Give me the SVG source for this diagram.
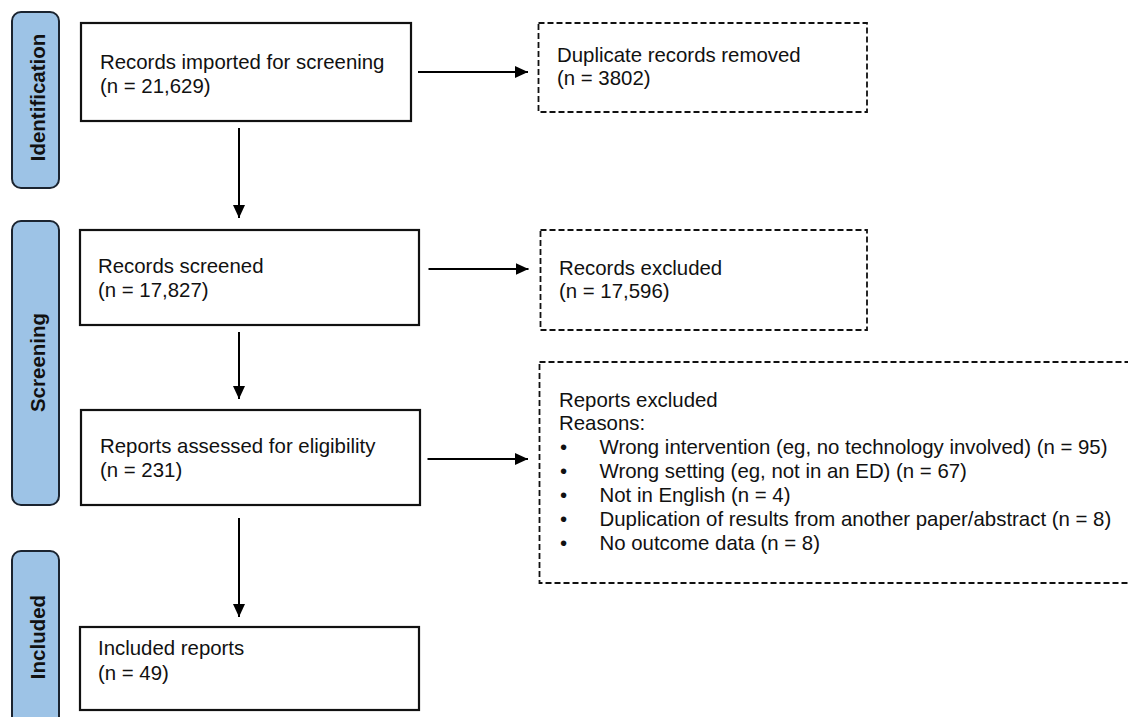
<svg xmlns="http://www.w3.org/2000/svg" width="1128" height="717" viewBox="0 0 1128 717">
  <defs>
    <marker id="arrow" viewBox="0 0 13 12" refX="13" refY="6" markerWidth="13" markerHeight="12" markerUnits="userSpaceOnUse" orient="auto">
      <path d="M0,0 L13,6 L0,12 Z" fill="#000"/>
    </marker>
    <style>
      .tab { fill: #9dc3e6; stroke: #1b2430; stroke-width: 2; }
      .tab-label { font-family: "Liberation Sans", Arial, sans-serif; font-size: 20.5px; font-weight: bold; fill: #111; text-anchor: middle; }
      .box { fill: #fff; stroke: #111; stroke-width: 2.2; }
      .dbox { fill: #fff; stroke: #111; stroke-width: 1.8; stroke-dasharray: 6 3; }
      .txt { font-family: "Liberation Sans", Arial, sans-serif; font-size: 20.4px; fill: #111; }
      .conn { stroke: #000; stroke-width: 2; fill: none; marker-end: url(#arrow); }
    </style>
  </defs>
  <rect width="1128" height="717" fill="#fff"/>

  <!-- phase tabs -->
  <g id="tab-identification">
    <rect class="tab" x="12" y="12" width="47" height="176" rx="9"/>
    <text class="tab-label" transform="translate(45,97.5) rotate(-90)">Identification</text>
  </g>
  <g id="tab-screening">
    <rect class="tab" x="12" y="221" width="47" height="284" rx="9"/>
    <text class="tab-label" transform="translate(45,362.5) rotate(-90)">Screening</text>
  </g>
  <g id="tab-included">
    <rect class="tab" x="12" y="551" width="47" height="180" rx="9"/>
    <text class="tab-label" transform="translate(45,637) rotate(-90)">Included</text>
  </g>

  <!-- main flow -->
  <g id="records-imported">
    <rect class="box" x="81" y="23" width="330" height="98"/>
    <text class="txt" x="100" y="69">Records imported for screening</text>
    <text class="txt" x="100" y="93">(n = 21,629)</text>
  </g>
  <g id="records-screened">
    <rect class="box" x="80" y="230" width="339" height="95"/>
    <text class="txt" x="98" y="273">Records screened</text>
    <text class="txt" x="98" y="297">(n = 17,827)</text>
  </g>
  <g id="reports-assessed">
    <rect class="box" x="81" y="410" width="339" height="95"/>
    <text class="txt" x="100" y="453">Reports assessed for eligibility</text>
    <text class="txt" x="100" y="477">(n = 231)</text>
  </g>
  <g id="included-reports">
    <rect class="box" x="80" y="627" width="339" height="83"/>
    <text class="txt" x="98" y="655">Included reports</text>
    <text class="txt" x="98" y="680">(n = 49)</text>
  </g>

  <!-- exclusions -->
  <g id="duplicates-removed">
    <rect class="dbox" x="538.5" y="23" width="328.5" height="89"/>
    <text class="txt" x="557" y="62">Duplicate records removed</text>
    <text class="txt" x="557" y="85">(n = 3802)</text>
  </g>
  <g id="records-excluded">
    <rect class="dbox" x="540.5" y="230" width="326.5" height="100"/>
    <text class="txt" x="559" y="275">Records excluded</text>
    <text class="txt" x="559" y="298">(n = 17,596)</text>
  </g>
  <g id="reports-excluded">
    <rect class="dbox" x="539.5" y="362" width="620" height="221"/>
    <text class="txt" x="559" y="407">Reports excluded</text>
    <text class="txt" x="559" y="430">Reasons:</text>
    <g class="txt">
      <text x="560" y="454">•</text><text x="599.5" y="454">Wrong intervention (eg, no technology involved) (n = 95)</text>
      <text x="560" y="478">•</text><text x="599.5" y="478">Wrong setting (eg, not in an ED) (n = 67)</text>
      <text x="560" y="502">•</text><text x="599.5" y="502">Not in English (n = 4)</text>
      <text x="560" y="526">•</text><text x="599.5" y="526">Duplication of results from another paper/abstract (n = 8)</text>
      <text x="560" y="550">•</text><text x="599.5" y="550">No outcome data (n = 8)</text>
    </g>
  </g>

  <!-- connectors -->
  <g id="connectors">
    <line class="conn" x1="239" y1="128" x2="239" y2="218"/>
    <line class="conn" x1="239" y1="332" x2="239" y2="399"/>
    <line class="conn" x1="239" y1="518" x2="239" y2="617"/>
    <line class="conn" x1="418" y1="72" x2="528" y2="72"/>
    <line class="conn" x1="428.5" y1="269" x2="528.5" y2="269"/>
    <line class="conn" x1="427.5" y1="459" x2="528" y2="459"/>
  </g>
</svg>
